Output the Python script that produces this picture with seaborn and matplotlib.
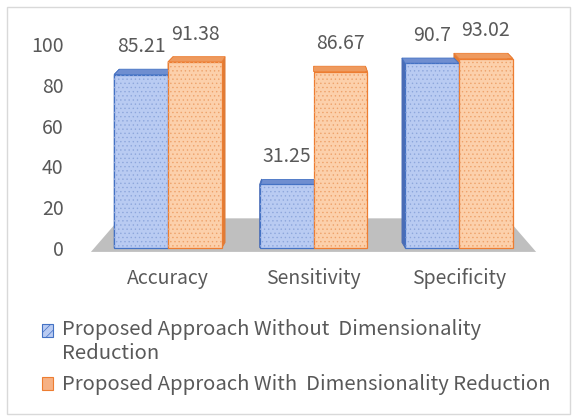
import numpy as np
import pandas as pd
import matplotlib
matplotlib.use("Agg")
import matplotlib.pyplot as plt
from matplotlib.patches import Polygon, Rectangle
import seaborn as sns

# ---- data -------------------------------------------------------------
metrics = ["Accuracy", "Sensitivity", "Specificity"]
series_names = [
    "Proposed Approach Without  Dimensionality\nReduction",
    "Proposed Approach With  Dimensionality Reduction",
]
without_dr = [85.21, 31.25, 90.7]
with_dr = [91.38, 86.67, 93.02]
y_ticks = [0, 20, 40, 60, 80, 100]

df = pd.DataFrame({
    "metric": metrics * 2,
    "approach": [series_names[0]] * len(metrics) + [series_names[1]] * len(metrics),
    "value": without_dr + with_dr,
})

# ---- style ------------------------------------------------------------
sns.set_theme(style="white")
plt.rcParams["font.family"] = ["Noto Sans CJK SC", "DejaVu Sans"]
plt.rcParams["hatch.linewidth"] = 0.5
TEXT = "#595959"

front_c = ["#b9cbf2", "#fcd0ab"]
edge_c = ["#4472c4", "#ed7d31"]
dot_c = ["#8ea7dc", "#eea26b"]
top_c = ["#6f8ed0", "#ee9a5e"]
side_c = ["#4a6cb5", "#e07b36"]

fig = plt.figure(figsize=(5.77, 4.16), dpi=100)
ax = fig.add_axes([0.1248, 0.3798, 0.8371, 0.5721])

sns.barplot(data=df, x="metric", y="value", hue="approach", palette=front_c,
            saturation=1, width=0.74, gap=0, ax=ax, legend=False,
            zorder=3, linewidth=0.9)

ax.set_xlim(-0.66, len(metrics) - 1 + 0.66)
ax.set_ylim(-5, 112)

# grey floor the columns stand on (oblique view)
mid = (len(metrics) - 1) / 2
floor = Polygon([(mid - 1.53, -2.0), (mid + 1.53, -2.0),
                 (mid + 1.33, 14.5), (mid - 1.33, 14.5)],
                closed=True, fc="#bfbfbf", ec="none", zorder=1)
ax.add_patch(floor)

# extrude every column: side faces and a top face, leaning toward the middle
depth_y = 2.6
for k, cont in enumerate(ax.containers):
    for p in cont:
        p.set_edgecolor(edge_c[k])
        x0 = p.get_x()
        x1 = x0 + p.get_width()
        h = p.get_height()
        d0 = 0.035 * np.clip(mid - x0, -1, 1)
        d1 = 0.035 * np.clip(mid - x1, -1, 1)
        for xe, de in ((x0, d0), (x1, d1)):
            ax.add_patch(Polygon([(xe, 0), (xe, h), (xe + de, h + depth_y), (xe + de, depth_y)],
                                 closed=True, fc=side_c[k], ec=side_c[k], lw=0.6, zorder=2))
        ax.add_patch(Polygon([(x0, h), (x1, h), (x1 + d1, h + depth_y), (x0 + d0, h + depth_y)],
                             closed=True, fc=top_c[k], ec=edge_c[k], lw=0.6, zorder=2.5))
        # dotted fill texture on the front face
        ax.add_patch(Rectangle((x0, 0), x1 - x0, h, fill=False, hatch="....",
                               ec=dot_c[k], lw=0, zorder=3.5))
        # value label above the column
        ax.annotate(f"{h:g}", xy=(x0 + (x1 - x0) / 2, h), xytext=(0, 20),
                    textcoords="offset points", ha="center", va="center",
                    color=TEXT, fontsize=14, annotation_clip=False)

ax.set_yticks(y_ticks)
ax.set_xlabel("")
ax.set_ylabel("")
ax.tick_params(axis="y", length=0, pad=6, labelcolor=TEXT, labelsize=14)
ax.tick_params(axis="x", length=0, pad=7, labelcolor=TEXT, labelsize=14)
for s in ax.spines.values():
    s.set_visible(False)

# legend below the plot
handles = [Rectangle((0, 0), 1, 1, fc=front_c[k], ec=edge_c[k], lw=0.8,
                     hatch="////" if k == 0 else None)
           for k in range(2)]
handles[1].set_facecolor("#f6b184")
leg = fig.legend(handles, series_names, loc="upper left",
                 bbox_to_anchor=(32 / 577, 1 - 309 / 416), frameon=False,
                 borderpad=0, handlelength=0.55, handleheight=0.6,
                 handletextpad=0.45, labelspacing=0.5, fontsize=14.6,
                 labelcolor=TEXT)
# keep the marker of the two-line entry beside its first line
first = leg.legend_handles[0]
first.set_y(first.get_y() + 0.6 * 14.6)

# thin frame around the whole chart
fig.patches.append(Rectangle((7 / 577, 2 / 416), 563 / 577, 407 / 416,
                             transform=fig.transFigure, fill=False,
                             ec="#d9d9d9", lw=1.0))

fig.savefig("out.png", dpi=100)
